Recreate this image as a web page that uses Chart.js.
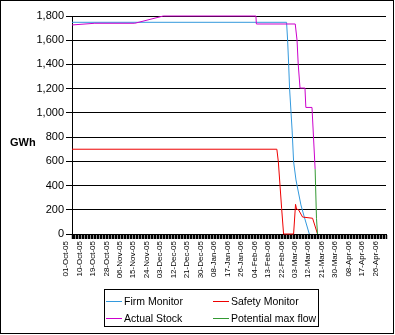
<!DOCTYPE html>
<html>
<head>
<meta charset="utf-8">
<script src="https://cdn.jsdelivr.net/npm/chart.js"></script>
<style>
  html, body { margin: 0; padding: 0; background: #fff; }
  canvas { display: block; background: #fff; }
</style>
</head>
<body>
<canvas id="stockChart" width="395" height="335"></canvas>
<script>
// x axis runs one tick per day from 01-Oct-05
const startDate = new Date(Date.UTC(2005, 9, 1));
const dayCount = 211;
const labelEvery = 9;
const monthNames = ['Jan', 'Feb', 'Mar', 'Apr', 'May', 'Jun', 'Jul', 'Aug', 'Sep', 'Oct', 'Nov', 'Dec'];

const yTicks = { min: 0, max: 1800, step: 200 };

// [day, GWh] breakpoints for each series
const firmMonitor = [
  [0, 1748], [143.5, 1748], [144.2, 1600], [144.9, 1400], [145.5, 1205],
  [146.5, 1000], [147.2, 858], [148.2, 597], [149.8, 446], [153.1, 240],
  [155.3, 143], [158.7, 0]
];
const safetyMonitor = [
  [0, 700], [137, 700], [138, 597], [140.2, 212], [141.5, 0], [148.2, 0],
  [149.5, 245], [150.2, 206], [151.5, 200], [154.2, 140], [160.9, 130], [164.2, 0]
];
const actualStock = [
  [0, 1726], [15.3, 1740], [42, 1740], [61, 1800], [123, 1800], [123.3, 1734],
  [149.3, 1734], [150.5, 1600], [151.3, 1400], [152.5, 1205], [155.8, 1205],
  [156.4, 1045], [160.5, 1045], [162.6, 535]
];
const potentialMaxFlow = [
  [162.6, 535], [163.5, 130], [164.2, 0]
];

const dayLabels = [];
for (let i = 0; i < dayCount; i++) {
  const d = new Date(startDate.getTime() + i * 86400000);
  const dd = String(d.getUTCDate()).padStart(2, '0');
  const yy = String(d.getUTCFullYear()).slice(2);
  dayLabels.push(dd + '-' + monthNames[d.getUTCMonth()] + '-' + yy);
}

const toPoints = rows => rows.map(([x, y]) => ({ x, y }));

Chart.defaults.font.family = '"Liberation Sans", Arial, sans-serif';
Chart.defaults.color = '#000';

// outer frame, horizontal axis title and boxed two-column legend
const framePlugin = {
  id: 'frame',
  afterDraw(chart) {
    const ctx = chart.ctx;
    ctx.save();
    ctx.strokeStyle = '#000';
    ctx.lineWidth = 1;
    ctx.strokeRect(0.5, 0.5, 393, 333);

    ctx.fillStyle = '#000';
    ctx.font = 'bold 11px "Liberation Sans", Arial, sans-serif';
    ctx.textBaseline = 'middle';
    ctx.textAlign = 'left';
    ctx.fillText('GWh', 10, 143);

    ctx.strokeRect(104.5, 289.5, 214, 37);
    const cols = [106, 213];
    const rows = [301, 318];
    ctx.font = '10.5px "Liberation Sans", Arial, sans-serif';
    chart.data.datasets.forEach((ds, i) => {
      const x = cols[i % 2];
      const y = rows[Math.floor(i / 2)];
      ctx.fillStyle = ds.borderColor;
      ctx.fillRect(x, y, 16, 1);
      ctx.fillStyle = '#000';
      ctx.fillText(ds.label, x + 18, y + 1);
    });
    ctx.restore();
  }
};

new Chart(document.getElementById('stockChart'), {
  type: 'line',
  data: {
    datasets: [
      { label: 'Firm Monitor', data: toPoints(firmMonitor), borderColor: '#3399dd', order: 3 },
      { label: 'Safety Monitor', data: toPoints(safetyMonitor), borderColor: '#ee0000', order: 2 },
      { label: 'Actual Stock', data: toPoints(actualStock), borderColor: '#cc00cc', order: 1 },
      { label: 'Potential max flow', data: toPoints(potentialMaxFlow), borderColor: '#339933', order: 0 }
    ]
  },
  options: {
    responsive: false,
    animation: false,
    layout: { padding: { left: 0, right: 9, top: 16, bottom: 45 } },
    datasets: { line: { clip: 3 } },
    elements: {
      point: { radius: 0 },
      line: { borderWidth: 1, tension: 0 }
    },
    plugins: {
      legend: { display: false }
    },
    scales: {
      x: {
        type: 'linear',
        min: 0,
        max: dayCount - 1,
        // one mark per day; slightly wide so the row reads as a solid strip
        grid: { drawOnChartArea: false, color: '#000', tickColor: '#000', tickWidth: 1.5, tickLength: 5 },
        border: { color: '#000' },
        ticks: {
          stepSize: 1,
          autoSkip: false,
          minRotation: 90,
          maxRotation: 90,
          labelOffset: -6,
          padding: 2,
          font: { size: 8 },
          callback: v => {
            const i = Math.round(v);
            return i % labelEvery === 0 ? dayLabels[i] : '';
          }
        },
        afterFit: scale => {
          scale.height = 56;
          scale.paddingLeft = 0;
          scale.paddingRight = 0;
        }
      },
      y: {
        min: yTicks.min,
        max: yTicks.max,
        grid: { color: '#000', tickLength: 6 },
        border: { color: '#000' },
        ticks: {
          stepSize: yTicks.step,
          padding: 2,
          font: { size: 11 },
          callback: v => v.toLocaleString('en-US')
        },
        afterFit: scale => { scale.width = 72; }
      }
    }
  },
  plugins: [framePlugin]
});
</script>
</body>
</html>
